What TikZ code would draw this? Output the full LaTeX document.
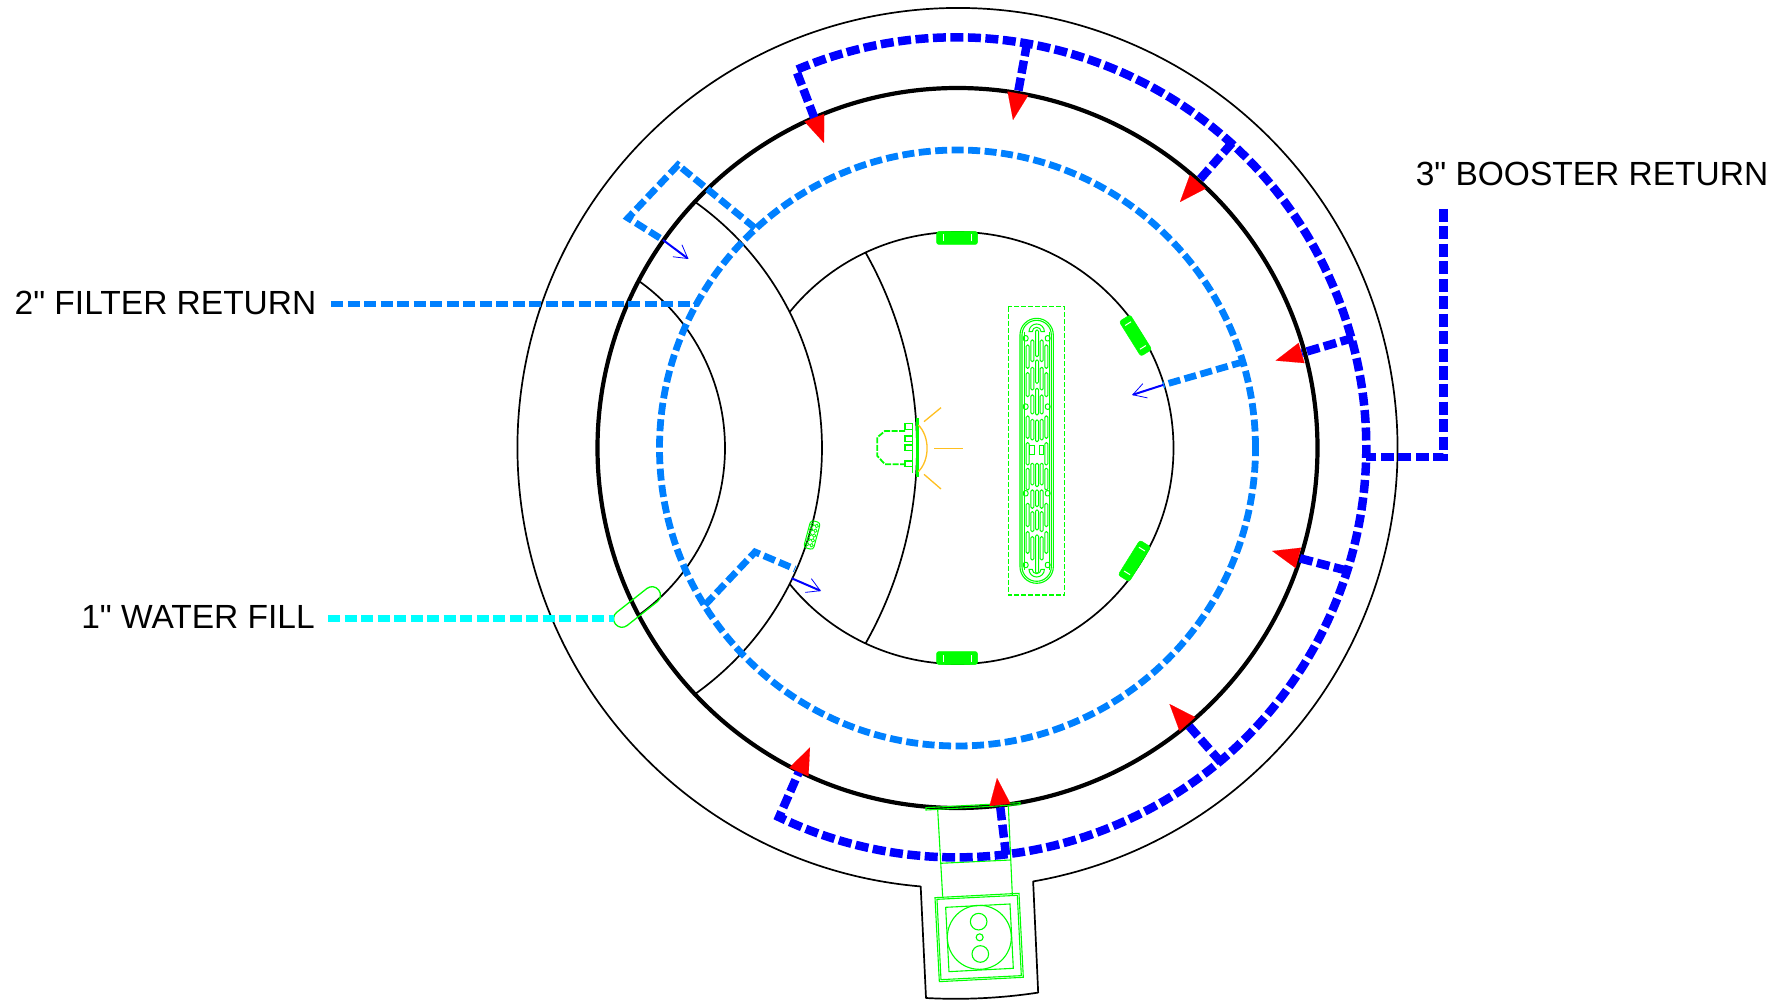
\documentclass[tikz,border=0pt]{standalone}
\usepackage{fontspec}
\newfontfamily\labelfont{Liberation Sans}
\usetikzlibrary{arrows.meta}
\definecolor{dkblue}{RGB}{0,0,255}
\definecolor{ltblue}{RGB}{0,128,255}
\definecolor{cyanline}{RGB}{0,255,255}
\definecolor{grn}{RGB}{0,255,0}
\definecolor{org}{RGB}{255,191,31}
\tikzset{
  wall/.style={draw=black,line width=1.7pt},
  thickwall/.style={draw=black,line width=4.2pt},
  booster/.style={draw=dkblue,line width=8.5pt,dash pattern=on 13pt off 4.5pt},
  filterline/.style={draw=ltblue,line width=6.8pt,dash pattern=on 12pt off 4.5pt},
  fillline/.style={draw=cyanline,line width=6.5pt,dash pattern=on 12pt off 4.5pt},
  redtip/.style={draw=red,fill=red,line width=0.1pt,-{Triangle[length=27pt,width=21pt]}},
  thinarrow/.style={draw=dkblue,line width=2pt,-{Straight Barb[length=13pt,width=15pt,line width=0.8pt]}},
  grnline/.style={draw=grn,line width=1.1pt},
  grnfine/.style={draw=grn,line width=1pt},
  grndash/.style={draw=grn,line width=1.2pt,dash pattern=on 5pt off 2pt},
  orgline/.style={draw=org,line width=1.3pt},
  label/.style={font=\labelfont\fontsize{33.5}{36}\selectfont,inner sep=0pt,text=black},
  mount/.style={fill=grn,draw=grn,rounded corners=2.5pt,line width=0.5pt},
  mounttick/.style={draw=white,line width=1pt}
}
\newcommand{\slimpill}[3]{\draw[grnfine,rounded corners=1.3pt] (#1-4.5,#2) rectangle (#1+4.5,#3);}
\begin{document}
\begin{tikzpicture}[x=1pt,y=1pt]
\useasboundingbox (0,0) rectangle (1789,-1000);
\coordinate (C) at (957.5,-448);
% ---- walls
\draw[wall,line join=round] (C) ++(-80.1:440) arc[start angle=-80.1,end angle=265.2,radius=440]
  -- (926,-998) arc[start angle=266.9,end angle=278.6,radius=551] -- cycle;
\draw[thickwall] (C) circle[radius=360];
\draw[wall] (C) ++(141:216) arc[start angle=141,end angle=-141,radius=216];
\coordinate (P) at (520,-448);
\draw[wall] (P) ++(54.4:205) arc[start angle=54.4,end angle=-54.4,radius=205];
\draw[wall] (P) ++(54.4:302) arc[start angle=54.4,end angle=-54.4,radius=302];
\draw[wall] (P) ++(29.5:397) arc[start angle=29.5,end angle=-29.5,radius=397];
% ---- mounts
\foreach \px/\py/\rot in {957/238/0,957/658/0,1135.5/335.5/-58,1134.5/561/58}{
  \begin{scope}[shift={(\px pt,-\py pt)},rotate=\rot]
    \path[mount] (-20.5,-6.5) rectangle (20.5,6.5);
    \draw[mounttick] (-14,-3.5) -- (-14,3.5);
    \draw[mounttick] (14,-3.5) -- (14,3.5);
  \end{scope}}
\begin{scope}[shift={(812pt,-535pt)},rotate=75]
  \draw[draw=grn,line width=1pt,rounded corners=3pt] (-14,-5) rectangle (14,5);
  \foreach \q in {-10,-5,0,5,10}{
    \draw[draw=grn,line width=0.8pt] (\q,2.2) circle[radius=1.8];
    \draw[draw=grn,line width=0.8pt] (\q,-2.2) circle[radius=1.8];}
\end{scope}
% ---- water fill fitting
\begin{scope}[shift={(637pt,-607pt)},rotate=38.3]
  \draw[draw=grn,line width=1.3pt,rounded corners=8.2pt] (-27.5,-8.4) rectangle (27.5,8.4);
\end{scope}
% ---- light
\begin{scope}[shift={(850pt,-380pt)},x=0.3333pt,y=-0.3333pt]
  \draw[draw=grn,line width=3.2pt] (202,115) -- (202,290);
  \draw[draw=grn,line width=1.6pt] (188,130) -- (188,280);
  \foreach \q in {140,177,204,252}{
    \draw[draw=grn,line width=1.3pt] (188,\q-9) -- (165,\q-9) -- (165,\q+8) -- (188,\q+8);}
  \draw[draw=grn,line width=1.8pt,dash pattern=on 6pt off 1.5pt] (165,153) -- (105,153) -- (82,172) -- (82,228) -- (105,253) -- (165,253);
  \draw[orgline] (205,135) .. controls (240,170) and (240,240) .. (205,275);
  \draw[orgline] (222,125) -- (273,83);
  \draw[orgline] (253,205) -- (340,205);
  \draw[orgline] (222,283) -- (273,327);
\end{scope}
% ---- filter element
\begin{scope}[shift={(990pt,-290pt)},x=0.3333pt,y=-0.3333pt]
  \draw[grndash] (55,50) rectangle (224,915);
  \draw[grnline,rounded corners=16.6pt] (90,85) rectangle (190,880);
  \draw[grnline,rounded corners=14.6pt] (96,91) rectangle (184,874);
  \draw[grnfine] (103,125) -- (103,840);
  \draw[grnfine] (177,125) -- (177,840);
  \draw[grnfine] (117,125) arc[start angle=180,end angle=0,radius=7.7pt] -- ++(-10,0) arc[start angle=0,end angle=180,radius=4.4pt] -- cycle;
  \draw[grnfine] (117,838) arc[start angle=180,end angle=360,radius=7.7pt] -- ++(-10,0) arc[start angle=360,end angle=180,radius=4.4pt] -- cycle;
  \foreach \a/\b in {165/235,248/320,378/445,458/525,535/600,640/710,725/790}{
    \slimpill{113}{\a}{\b}\slimpill{169}{\a}{\b}}
  \foreach \a/\b in {150/215,232/300,315/372,388/450,520/585,600/655,665/725,740/810}{
    \slimpill{127}{\a}{\b}\slimpill{155}{\a}{\b}}
  \foreach \a/\b in {120/200,210/280,295/375,390/455,520/590,600/650,660/720,735/850}{
    \slimpill{141}{\a}{\b}}
  \draw[grnfine] (119,468) rectangle (133,495);
  \draw[grnfine] (147,468) rectangle (161,495);
  \foreach \q in {145,350,610,825}{
    \draw[grnfine,rounded corners=2pt] (100,\q-8) rectangle (114,\q+8);
    \draw[grnfine,rounded corners=2pt] (166,\q-8) rectangle (180,\q+8);}
\end{scope}
% ---- equipment at the bottom
\begin{scope}[shift={(880pt,-780pt)},x=0.3333pt,y=-0.3333pt]
  \draw[grnline] (138,83) -- (420,68) -- (420,74) -- (138,90) -- cycle;
  \draw[grnline] (173,88) -- (188,350);
  \draw[grnline] (385,75) -- (397,345);
  \draw[grnline] (180,250) -- (392,240);
  \draw[grnline] (165,353) -- (417,340) -- (430,592) -- (178,605) -- cycle;
  \draw[grnline] (171,358) -- (412,346) -- (424,587) -- (183,599) -- cycle;
  \draw[grnline] (197,382) -- (390,372) -- (400,565) -- (207,575) -- cycle;
  \draw[grnline] (298,472) circle[radius=32pt];
  \draw[grnline] (296,425) circle[radius=8.3pt];
  \draw[grnline] (299,472) circle[radius=3.5pt];
  \draw[grnline] (301,522) circle[radius=8.3pt];
\end{scope}
% ---- filter return
\draw[filterline] (C) circle[radius=298];
\coordinate (fs) at (331,-304);
\coordinate (fj) at (698,-304);
\draw[filterline] (fs) -- (fj);
\coordinate (l1) at (755,-228);
\coordinate (l2) at (678,-165);
\coordinate (l3) at (628,-218);
\coordinate (l4) at (663,-240);
\coordinate (l5) at (688.5,-259);
\draw[filterline] (l1) -- (l2) -- (l3) -- (l4);
\draw[thinarrow] (l4) -- (l5);
\coordinate (m1) at (705,-605);
\coordinate (m2) at (755,-552);
\coordinate (m3) at (795,-569);
\coordinate (m4) at (791.7,-578.3);
\coordinate (m5) at (821,-591);
\draw[filterline] (m1) -- (m2) -- (m3);
\draw[thinarrow] (m4) -- (m5);
\coordinate (r1) at (1243.6,-361.7);
\coordinate (r2) at (1163,-385);
\coordinate (r3) at (1132,-395);
\draw[filterline] (r1) -- (r2);
\draw[thinarrow] (r2) -- (r3);
% ---- water fill line
\coordinate (w1) at (328,-618.5);
\coordinate (w2) at (614,-618.5);
\draw[fillline] (w1) -- (w2);
% ---- booster return
\coordinate (b0) at (1443.4,-209);
\coordinate (b1) at (1443.4,-457);
\coordinate (b2) at (1366,-457);
\draw[booster] (b0) -- (b1) -- (b2);
\coordinate (s1a) at (796,-70);  \coordinate (s1b) at (814.3,-117.8); \coordinate (s1c) at (824,-143);
\coordinate (s2a) at (1027,-43.4); \coordinate (s2b) at (1017.9,-93.4); \coordinate (s2c) at (1013,-120);
\coordinate (s3a) at (1232,-143); \coordinate (s3b) at (1197.8,-181.7); \coordinate (s3c) at (1180,-202);
\coordinate (s4a) at (1353,-338); \coordinate (s4b) at (1301.6,-353); \coordinate (s4c) at (1275.6,-360.6);
\coordinate (s5a) at (1346.4,-570.5); \coordinate (s5b) at (1298.3,-557.9); \coordinate (s5c) at (1272.2,-551);
\coordinate (s6a) at (1220.9,-762.2); \coordinate (s6b) at (1187.4,-724.2); \coordinate (s6c) at (1169.5,-704);
\coordinate (s7a) at (1006,-855); \coordinate (s7b) at (1000,-805); \coordinate (s7c) at (997,-778);
\coordinate (s8a) at (778,-817); \coordinate (s8b) at (798.9,-772); \coordinate (s8c) at (810,-747.4);
\draw[booster] (s1b) -- (s1a) arc[start angle=113,end angle=-115.6,radius=410] -- (s8b);
\foreach \s in {s2,s3,s4,s5,s6,s7}{\draw[booster] (\s a) -- (\s b);}
\foreach \s in {s1,s2,s3,s4,s5,s6,s7,s8}{\draw[redtip] (\s b) -- (\s c);}
% ---- labels
\node[label,anchor=center] (lb) at (1592,-174) {3" BOOSTER RETURN};
\node[label,anchor=center] (lf) at (165.5,-303) {2" FILTER RETURN};
\node[label,anchor=center] (lw) at (198,-617) {1" WATER FILL};
\end{tikzpicture}
\end{document}
